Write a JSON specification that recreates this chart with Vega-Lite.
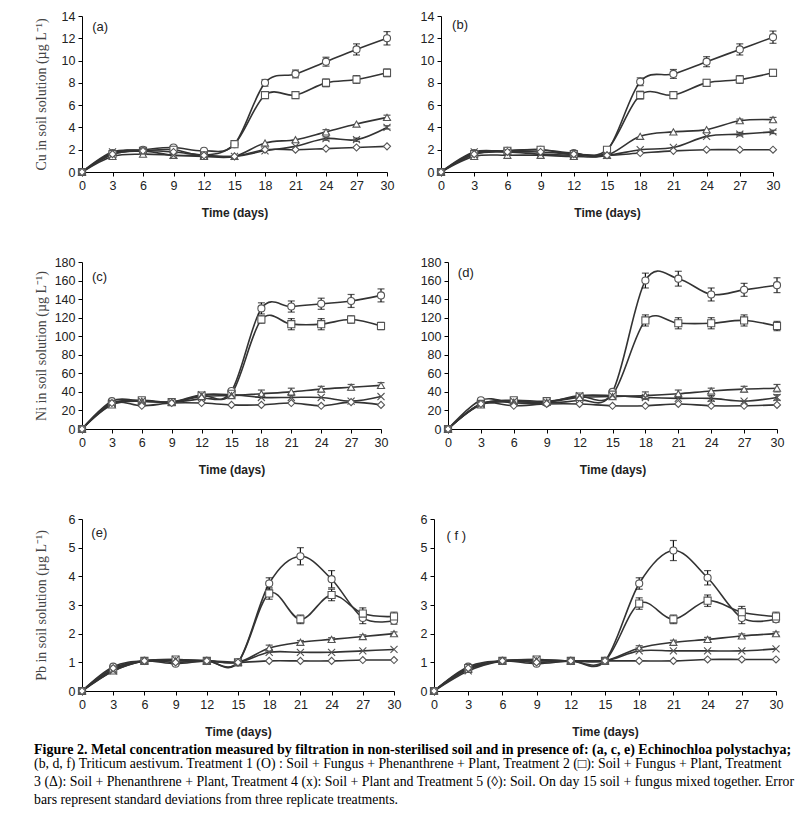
{
"$schema":"https://vega.github.io/schema/vega-lite/v6.json",
"padding":{"left":34,"top":10,"right":5,"bottom":5},
"background":"white",
"datasets":{"m":[
{"p":"a","t":"T1","d":0,"v":0},{"p":"a","t":"T1","d":3,"v":1.7},{"p":"a","t":"T1","d":6,"v":2.0},{"p":"a","t":"T1","d":9,"v":2.2},{"p":"a","t":"T1","d":12,"v":1.9},{"p":"a","t":"T1","d":15,"v":2.5,"e":0.1},{"p":"a","t":"T1","d":18,"v":8.0,"e":0.3},{"p":"a","t":"T1","d":21,"v":8.8,"e":0.35},{"p":"a","t":"T1","d":24,"v":9.9,"e":0.4},{"p":"a","t":"T1","d":27,"v":11.0,"e":0.5},{"p":"a","t":"T1","d":30,"v":12.0,"e":0.6},
{"p":"a","t":"T2","d":0,"v":0},{"p":"a","t":"T2","d":3,"v":1.6},{"p":"a","t":"T2","d":6,"v":1.9},{"p":"a","t":"T2","d":9,"v":2.0},{"p":"a","t":"T2","d":12,"v":1.5},{"p":"a","t":"T2","d":15,"v":2.5,"e":0.1},{"p":"a","t":"T2","d":18,"v":6.9,"e":0.3},{"p":"a","t":"T2","d":21,"v":6.9,"e":0.3},{"p":"a","t":"T2","d":24,"v":8.0,"e":0.35},{"p":"a","t":"T2","d":27,"v":8.3,"e":0.35},{"p":"a","t":"T2","d":30,"v":8.9,"e":0.35},
{"p":"a","t":"T3","d":0,"v":0},{"p":"a","t":"T3","d":3,"v":1.4},{"p":"a","t":"T3","d":6,"v":1.6},{"p":"a","t":"T3","d":9,"v":1.5},{"p":"a","t":"T3","d":12,"v":1.4},{"p":"a","t":"T3","d":15,"v":1.4},{"p":"a","t":"T3","d":18,"v":2.6},{"p":"a","t":"T3","d":21,"v":2.9},{"p":"a","t":"T3","d":24,"v":3.6,"e":0.2},{"p":"a","t":"T3","d":27,"v":4.3},{"p":"a","t":"T3","d":30,"v":4.9,"e":0.2},
{"p":"a","t":"T4","d":0,"v":0},{"p":"a","t":"T4","d":3,"v":1.8},{"p":"a","t":"T4","d":6,"v":1.9},{"p":"a","t":"T4","d":9,"v":1.5},{"p":"a","t":"T4","d":12,"v":1.5},{"p":"a","t":"T4","d":15,"v":1.4},{"p":"a","t":"T4","d":18,"v":1.9},{"p":"a","t":"T4","d":21,"v":2.3},{"p":"a","t":"T4","d":24,"v":3.0,"e":0.15},{"p":"a","t":"T4","d":27,"v":2.9,"e":0.15},{"p":"a","t":"T4","d":30,"v":4.0,"e":0.15},
{"p":"a","t":"T5","d":0,"v":0},{"p":"a","t":"T5","d":3,"v":1.6},{"p":"a","t":"T5","d":6,"v":1.9},{"p":"a","t":"T5","d":9,"v":1.8},{"p":"a","t":"T5","d":12,"v":1.5},{"p":"a","t":"T5","d":15,"v":1.4},{"p":"a","t":"T5","d":18,"v":2.0},{"p":"a","t":"T5","d":21,"v":2.0},{"p":"a","t":"T5","d":24,"v":2.1},{"p":"a","t":"T5","d":27,"v":2.2},{"p":"a","t":"T5","d":30,"v":2.3},
{"p":"b","t":"T1","d":0,"v":0},{"p":"b","t":"T1","d":3,"v":1.7},{"p":"b","t":"T1","d":6,"v":1.9},{"p":"b","t":"T1","d":9,"v":2.0},{"p":"b","t":"T1","d":12,"v":1.7},{"p":"b","t":"T1","d":15,"v":1.9},{"p":"b","t":"T1","d":18,"v":8.1,"e":0.35},{"p":"b","t":"T1","d":21,"v":8.8,"e":0.4},{"p":"b","t":"T1","d":24,"v":9.9,"e":0.45},{"p":"b","t":"T1","d":27,"v":11.0,"e":0.5},{"p":"b","t":"T1","d":30,"v":12.1,"e":0.55},
{"p":"b","t":"T2","d":0,"v":0},{"p":"b","t":"T2","d":3,"v":1.6},{"p":"b","t":"T2","d":6,"v":1.9},{"p":"b","t":"T2","d":9,"v":2.0},{"p":"b","t":"T2","d":12,"v":1.6},{"p":"b","t":"T2","d":15,"v":2.0,"e":0.1},{"p":"b","t":"T2","d":18,"v":6.9,"e":0.35},{"p":"b","t":"T2","d":21,"v":6.9,"e":0.3},{"p":"b","t":"T2","d":24,"v":8.0,"e":0.3},{"p":"b","t":"T2","d":27,"v":8.3,"e":0.35},{"p":"b","t":"T2","d":30,"v":8.9,"e":0.3},
{"p":"b","t":"T3","d":0,"v":0},{"p":"b","t":"T3","d":3,"v":1.4},{"p":"b","t":"T3","d":6,"v":1.5},{"p":"b","t":"T3","d":9,"v":1.5},{"p":"b","t":"T3","d":12,"v":1.4},{"p":"b","t":"T3","d":15,"v":1.5},{"p":"b","t":"T3","d":18,"v":3.2},{"p":"b","t":"T3","d":21,"v":3.6},{"p":"b","t":"T3","d":24,"v":3.8},{"p":"b","t":"T3","d":27,"v":4.6,"e":0.15},{"p":"b","t":"T3","d":30,"v":4.7,"e":0.2},
{"p":"b","t":"T4","d":0,"v":0},{"p":"b","t":"T4","d":3,"v":1.8},{"p":"b","t":"T4","d":6,"v":1.8},{"p":"b","t":"T4","d":9,"v":1.6},{"p":"b","t":"T4","d":12,"v":1.5},{"p":"b","t":"T4","d":15,"v":1.5},{"p":"b","t":"T4","d":18,"v":2.0},{"p":"b","t":"T4","d":21,"v":2.2},{"p":"b","t":"T4","d":24,"v":3.2},{"p":"b","t":"T4","d":27,"v":3.4,"e":0.15},{"p":"b","t":"T4","d":30,"v":3.6,"e":0.15},
{"p":"b","t":"T5","d":0,"v":0},{"p":"b","t":"T5","d":3,"v":1.6},{"p":"b","t":"T5","d":6,"v":1.8},{"p":"b","t":"T5","d":9,"v":1.8},{"p":"b","t":"T5","d":12,"v":1.6},{"p":"b","t":"T5","d":15,"v":1.5},{"p":"b","t":"T5","d":18,"v":1.7},{"p":"b","t":"T5","d":21,"v":1.9},{"p":"b","t":"T5","d":24,"v":2.0},{"p":"b","t":"T5","d":27,"v":2.0},{"p":"b","t":"T5","d":30,"v":2.0},
{"p":"c","t":"T1","d":0,"v":0},{"p":"c","t":"T1","d":3,"v":30},{"p":"c","t":"T1","d":6,"v":30},{"p":"c","t":"T1","d":9,"v":29},{"p":"c","t":"T1","d":12,"v":33},{"p":"c","t":"T1","d":15,"v":41},{"p":"c","t":"T1","d":18,"v":130,"e":6},{"p":"c","t":"T1","d":21,"v":132,"e":6},{"p":"c","t":"T1","d":24,"v":135,"e":6},{"p":"c","t":"T1","d":27,"v":138,"e":7},{"p":"c","t":"T1","d":30,"v":144,"e":7},
{"p":"c","t":"T2","d":0,"v":0},{"p":"c","t":"T2","d":3,"v":27},{"p":"c","t":"T2","d":6,"v":31},{"p":"c","t":"T2","d":9,"v":29},{"p":"c","t":"T2","d":12,"v":36},{"p":"c","t":"T2","d":15,"v":38},{"p":"c","t":"T2","d":18,"v":118,"e":4},{"p":"c","t":"T2","d":21,"v":113,"e":6},{"p":"c","t":"T2","d":24,"v":113,"e":6},{"p":"c","t":"T2","d":27,"v":118,"e":4},{"p":"c","t":"T2","d":30,"v":111,"e":4},
{"p":"c","t":"T3","d":0,"v":0},{"p":"c","t":"T3","d":3,"v":26},{"p":"c","t":"T3","d":6,"v":30},{"p":"c","t":"T3","d":9,"v":29},{"p":"c","t":"T3","d":12,"v":35},{"p":"c","t":"T3","d":15,"v":36},{"p":"c","t":"T3","d":18,"v":38,"e":4},{"p":"c","t":"T3","d":21,"v":40,"e":4},{"p":"c","t":"T3","d":24,"v":43,"e":3},{"p":"c","t":"T3","d":27,"v":45,"e":3},{"p":"c","t":"T3","d":30,"v":47,"e":3},
{"p":"c","t":"T4","d":0,"v":0},{"p":"c","t":"T4","d":3,"v":28},{"p":"c","t":"T4","d":6,"v":30},{"p":"c","t":"T4","d":9,"v":29},{"p":"c","t":"T4","d":12,"v":37},{"p":"c","t":"T4","d":15,"v":37},{"p":"c","t":"T4","d":18,"v":34},{"p":"c","t":"T4","d":21,"v":34},{"p":"c","t":"T4","d":24,"v":34},{"p":"c","t":"T4","d":27,"v":30},{"p":"c","t":"T4","d":30,"v":35},
{"p":"c","t":"T5","d":0,"v":0},{"p":"c","t":"T5","d":3,"v":28},{"p":"c","t":"T5","d":6,"v":25},{"p":"c","t":"T5","d":9,"v":28},{"p":"c","t":"T5","d":12,"v":28},{"p":"c","t":"T5","d":15,"v":26},{"p":"c","t":"T5","d":18,"v":26},{"p":"c","t":"T5","d":21,"v":28},{"p":"c","t":"T5","d":24,"v":25},{"p":"c","t":"T5","d":27,"v":29},{"p":"c","t":"T5","d":30,"v":26},
{"p":"d","t":"T1","d":0,"v":0},{"p":"d","t":"T1","d":3,"v":31},{"p":"d","t":"T1","d":6,"v":28},{"p":"d","t":"T1","d":9,"v":28},{"p":"d","t":"T1","d":12,"v":31},{"p":"d","t":"T1","d":15,"v":40},{"p":"d","t":"T1","d":18,"v":160,"e":8},{"p":"d","t":"T1","d":21,"v":162,"e":8},{"p":"d","t":"T1","d":24,"v":145,"e":7},{"p":"d","t":"T1","d":27,"v":150,"e":7},{"p":"d","t":"T1","d":30,"v":155,"e":8},
{"p":"d","t":"T2","d":0,"v":0},{"p":"d","t":"T2","d":3,"v":27},{"p":"d","t":"T2","d":6,"v":31},{"p":"d","t":"T2","d":9,"v":30},{"p":"d","t":"T2","d":12,"v":35},{"p":"d","t":"T2","d":15,"v":37},{"p":"d","t":"T2","d":18,"v":117,"e":6},{"p":"d","t":"T2","d":21,"v":114,"e":6},{"p":"d","t":"T2","d":24,"v":114,"e":6},{"p":"d","t":"T2","d":27,"v":117,"e":6},{"p":"d","t":"T2","d":30,"v":111,"e":5},
{"p":"d","t":"T3","d":0,"v":0},{"p":"d","t":"T3","d":3,"v":26},{"p":"d","t":"T3","d":6,"v":29},{"p":"d","t":"T3","d":9,"v":29},{"p":"d","t":"T3","d":12,"v":34},{"p":"d","t":"T3","d":15,"v":35},{"p":"d","t":"T3","d":18,"v":36,"e":4},{"p":"d","t":"T3","d":21,"v":38,"e":4},{"p":"d","t":"T3","d":24,"v":41,"e":3},{"p":"d","t":"T3","d":27,"v":43,"e":3},{"p":"d","t":"T3","d":30,"v":44,"e":4},
{"p":"d","t":"T4","d":0,"v":0},{"p":"d","t":"T4","d":3,"v":27},{"p":"d","t":"T4","d":6,"v":30},{"p":"d","t":"T4","d":9,"v":29},{"p":"d","t":"T4","d":12,"v":36},{"p":"d","t":"T4","d":15,"v":36},{"p":"d","t":"T4","d":18,"v":34},{"p":"d","t":"T4","d":21,"v":33},{"p":"d","t":"T4","d":24,"v":33,"e":3},{"p":"d","t":"T4","d":27,"v":30},{"p":"d","t":"T4","d":30,"v":34,"e":3},
{"p":"d","t":"T5","d":0,"v":0},{"p":"d","t":"T5","d":3,"v":27},{"p":"d","t":"T5","d":6,"v":25},{"p":"d","t":"T5","d":9,"v":27},{"p":"d","t":"T5","d":12,"v":27},{"p":"d","t":"T5","d":15,"v":25},{"p":"d","t":"T5","d":18,"v":25},{"p":"d","t":"T5","d":21,"v":27},{"p":"d","t":"T5","d":24,"v":25},{"p":"d","t":"T5","d":27,"v":25},{"p":"d","t":"T5","d":30,"v":26},
{"p":"e","t":"T1","d":0,"v":0},{"p":"e","t":"T1","d":3,"v":0.85},{"p":"e","t":"T1","d":6,"v":1.05},{"p":"e","t":"T1","d":9,"v":0.95},{"p":"e","t":"T1","d":12,"v":1.05},{"p":"e","t":"T1","d":15,"v":1.0},{"p":"e","t":"T1","d":18,"v":3.75,"e":0.2},{"p":"e","t":"T1","d":21,"v":4.7,"e":0.3},{"p":"e","t":"T1","d":24,"v":3.9,"e":0.3},{"p":"e","t":"T1","d":27,"v":2.55,"e":0.2},{"p":"e","t":"T1","d":30,"v":2.45,"e":0.12},
{"p":"e","t":"T2","d":0,"v":0},{"p":"e","t":"T2","d":3,"v":0.75},{"p":"e","t":"T2","d":6,"v":1.05},{"p":"e","t":"T2","d":9,"v":1.1},{"p":"e","t":"T2","d":12,"v":1.05},{"p":"e","t":"T2","d":15,"v":1.0},{"p":"e","t":"T2","d":18,"v":3.4,"e":0.2},{"p":"e","t":"T2","d":21,"v":2.5,"e":0.15},{"p":"e","t":"T2","d":24,"v":3.35,"e":0.2},{"p":"e","t":"T2","d":27,"v":2.7,"e":0.2},{"p":"e","t":"T2","d":30,"v":2.6,"e":0.15},
{"p":"e","t":"T3","d":0,"v":0},{"p":"e","t":"T3","d":3,"v":0.7},{"p":"e","t":"T3","d":6,"v":1.05},{"p":"e","t":"T3","d":9,"v":1.05},{"p":"e","t":"T3","d":12,"v":1.05},{"p":"e","t":"T3","d":15,"v":1.0},{"p":"e","t":"T3","d":18,"v":1.5,"e":0.1},{"p":"e","t":"T3","d":21,"v":1.7,"e":0.06},{"p":"e","t":"T3","d":24,"v":1.8,"e":0.06},{"p":"e","t":"T3","d":27,"v":1.9,"e":0.06},{"p":"e","t":"T3","d":30,"v":2.0,"e":0.06},
{"p":"e","t":"T4","d":0,"v":0},{"p":"e","t":"T4","d":3,"v":0.7},{"p":"e","t":"T4","d":6,"v":1.05},{"p":"e","t":"T4","d":9,"v":1.1},{"p":"e","t":"T4","d":12,"v":1.05},{"p":"e","t":"T4","d":15,"v":1.0},{"p":"e","t":"T4","d":18,"v":1.35},{"p":"e","t":"T4","d":21,"v":1.35},{"p":"e","t":"T4","d":24,"v":1.35},{"p":"e","t":"T4","d":27,"v":1.4},{"p":"e","t":"T4","d":30,"v":1.45},
{"p":"e","t":"T5","d":0,"v":0},{"p":"e","t":"T5","d":3,"v":0.8},{"p":"e","t":"T5","d":6,"v":1.05},{"p":"e","t":"T5","d":9,"v":1.0},{"p":"e","t":"T5","d":12,"v":1.05},{"p":"e","t":"T5","d":15,"v":1.0},{"p":"e","t":"T5","d":18,"v":1.05},{"p":"e","t":"T5","d":21,"v":1.05},{"p":"e","t":"T5","d":24,"v":1.05},{"p":"e","t":"T5","d":27,"v":1.08},{"p":"e","t":"T5","d":30,"v":1.08},
{"p":"f","t":"T1","d":0,"v":0},{"p":"f","t":"T1","d":3,"v":0.85},{"p":"f","t":"T1","d":6,"v":1.05},{"p":"f","t":"T1","d":9,"v":0.95},{"p":"f","t":"T1","d":12,"v":1.05},{"p":"f","t":"T1","d":15,"v":1.05},{"p":"f","t":"T1","d":18,"v":3.75,"e":0.2},{"p":"f","t":"T1","d":21,"v":4.9,"e":0.35},{"p":"f","t":"T1","d":24,"v":3.95,"e":0.25},{"p":"f","t":"T1","d":27,"v":2.55,"e":0.2},{"p":"f","t":"T1","d":30,"v":2.5,"e":0.1},
{"p":"f","t":"T2","d":0,"v":0},{"p":"f","t":"T2","d":3,"v":0.8},{"p":"f","t":"T2","d":6,"v":1.05},{"p":"f","t":"T2","d":9,"v":1.1},{"p":"f","t":"T2","d":12,"v":1.05},{"p":"f","t":"T2","d":15,"v":1.05},{"p":"f","t":"T2","d":18,"v":3.05,"e":0.2},{"p":"f","t":"T2","d":21,"v":2.5,"e":0.15},{"p":"f","t":"T2","d":24,"v":3.15,"e":0.2},{"p":"f","t":"T2","d":27,"v":2.75,"e":0.2},{"p":"f","t":"T2","d":30,"v":2.6,"e":0.15},
{"p":"f","t":"T3","d":0,"v":0},{"p":"f","t":"T3","d":3,"v":0.75},{"p":"f","t":"T3","d":6,"v":1.05},{"p":"f","t":"T3","d":9,"v":1.05},{"p":"f","t":"T3","d":12,"v":1.05},{"p":"f","t":"T3","d":15,"v":1.05},{"p":"f","t":"T3","d":18,"v":1.5,"e":0.08},{"p":"f","t":"T3","d":21,"v":1.7,"e":0.07},{"p":"f","t":"T3","d":24,"v":1.8,"e":0.07},{"p":"f","t":"T3","d":27,"v":1.92,"e":0.07},{"p":"f","t":"T3","d":30,"v":2.0,"e":0.06},
{"p":"f","t":"T4","d":0,"v":0},{"p":"f","t":"T4","d":3,"v":0.7},{"p":"f","t":"T4","d":6,"v":1.05},{"p":"f","t":"T4","d":9,"v":1.1},{"p":"f","t":"T4","d":12,"v":1.05},{"p":"f","t":"T4","d":15,"v":1.05},{"p":"f","t":"T4","d":18,"v":1.4},{"p":"f","t":"T4","d":21,"v":1.4},{"p":"f","t":"T4","d":24,"v":1.4},{"p":"f","t":"T4","d":27,"v":1.4},{"p":"f","t":"T4","d":30,"v":1.47},
{"p":"f","t":"T5","d":0,"v":0},{"p":"f","t":"T5","d":3,"v":0.8},{"p":"f","t":"T5","d":6,"v":1.05},{"p":"f","t":"T5","d":9,"v":1.0},{"p":"f","t":"T5","d":12,"v":1.05},{"p":"f","t":"T5","d":15,"v":1.05},{"p":"f","t":"T5","d":18,"v":1.05},{"p":"f","t":"T5","d":21,"v":1.05},{"p":"f","t":"T5","d":24,"v":1.1},{"p":"f","t":"T5","d":27,"v":1.1},{"p":"f","t":"T5","d":30,"v":1.1}
]},
"data":{"name":"m"},
"title":{"text":["Figure 2. Metal concentration measured by filtration in non-sterilised soil and in presence of: (a, c, e) Echinochloa polystachya;"],"subtitle":["(b, d, f) Triticum aestivum. Treatment 1 (O) : Soil + Fungus + Phenanthrene + Plant, Treatment 2 (□): Soil + Fungus + Plant, Treatment","3 (Δ): Soil + Phenanthrene + Plant, Treatment 4 (x): Soil + Plant and Treatment 5 (◊): Soil. On day 15 soil + fungus mixed together. Error","bars represent standard deviations from three replicate treatments."],"orient":"bottom","anchor":"start","frame":"bounds","offset":5,"font":"Liberation Serif","fontSize":14,"fontWeight":"bold","color":"#000","subtitleFont":"Liberation Serif","subtitleFontSize":13.8,"subtitleColor":"#000","subtitlePadding":0,"lineHeight":17.6,"subtitleLineHeight":18},
"columns":2,
"align":"none",
"spacing":{"row":37,"column":19},
"concat":[
{"width":305,"height":156,"transform":[{"filter":"datum.p==='a'"}],"layer":[
{"mark":{"type":"line","interpolate":"cardinal","color":"#333","strokeWidth":1.6},"encoding":{"x":{"field":"d","type":"quantitative","scale":{"domain":[0,30],"nice":false},"axis":{"values":[0,3,6,9,12,15,18,21,24,27,30],"title":"Time (days)"}},"y":{"field":"v","type":"quantitative","scale":{"domain":[0,14],"nice":false},"axis":{"values":[0,2,4,6,8,10,12,14],"title":"Cu in soil solution (µg L⁻¹)","titlePadding":13}},"detail":{"field":"t"}}},
{"transform":[{"filter":{"field":"e","valid":true}}],"mark":{"type":"errorbar","ticks":{"size":7},"color":"#111","thickness":1.2},"encoding":{"x":{"field":"d","type":"quantitative","scale":{"domain":[0,30],"nice":false},"axis":{"values":[0,3,6,9,12,15,18,21,24,27,30],"title":"Time (days)"}},"y":{"field":"v","type":"quantitative","scale":{"domain":[0,14],"nice":false},"axis":{"values":[0,2,4,6,8,10,12,14],"title":"Cu in soil solution (µg L⁻¹)","titlePadding":13}},"yError":{"field":"e"}}},
{"mark":{"type":"point","filled":false,"fill":"white","stroke":"#555","strokeWidth":1.1,"size":50,"opacity":1},"encoding":{"x":{"field":"d","type":"quantitative","scale":{"domain":[0,30],"nice":false},"axis":{"values":[0,3,6,9,12,15,18,21,24,27,30],"title":"Time (days)"}},"y":{"field":"v","type":"quantitative","scale":{"domain":[0,14],"nice":false},"axis":{"values":[0,2,4,6,8,10,12,14],"title":"Cu in soil solution (µg L⁻¹)","titlePadding":13}},"shape":{"field":"t","type":"nominal","legend":null,"scale":{"domain":["T1","T2","T3","T4","T5"],"range":["circle","square","triangle-up","M-1,-1L1,1M-1,1L1,-1","diamond"]}}}},
{"data":{"values":[{"p":"a","lab":"(a)"}]},"mark":{"type":"text","align":"left","baseline":"middle","font":"Liberation Sans","fontSize":13,"color":"#222"},"encoding":{"x":{"datum":1,"type":"quantitative","scale":{"domain":[0,30],"nice":false},"axis":{"values":[0,3,6,9,12,15,18,21,24,27,30],"title":"Time (days)"}},"y":{"datum":13,"type":"quantitative","scale":{"domain":[0,14],"nice":false},"axis":{"values":[0,2,4,6,8,10,12,14],"title":"Cu in soil solution (µg L⁻¹)","titlePadding":13}},"text":{"field":"lab"}}}
]},
{"width":332,"height":156,"transform":[{"filter":"datum.p==='b'"}],"layer":[
{"mark":{"type":"line","interpolate":"cardinal","color":"#333","strokeWidth":1.6},"encoding":{"x":{"field":"d","type":"quantitative","scale":{"domain":[0,30],"nice":false},"axis":{"values":[0,3,6,9,12,15,18,21,24,27,30],"title":"Time (days)"}},"y":{"field":"v","type":"quantitative","scale":{"domain":[0,14],"nice":false},"axis":{"values":[0,2,4,6,8,10,12,14],"title":null}},"detail":{"field":"t"}}},
{"transform":[{"filter":{"field":"e","valid":true}}],"mark":{"type":"errorbar","ticks":{"size":7},"color":"#111","thickness":1.2},"encoding":{"x":{"field":"d","type":"quantitative","scale":{"domain":[0,30],"nice":false},"axis":{"values":[0,3,6,9,12,15,18,21,24,27,30],"title":"Time (days)"}},"y":{"field":"v","type":"quantitative","scale":{"domain":[0,14],"nice":false},"axis":{"values":[0,2,4,6,8,10,12,14],"title":null}},"yError":{"field":"e"}}},
{"mark":{"type":"point","filled":false,"fill":"white","stroke":"#555","strokeWidth":1.1,"size":50,"opacity":1},"encoding":{"x":{"field":"d","type":"quantitative","scale":{"domain":[0,30],"nice":false},"axis":{"values":[0,3,6,9,12,15,18,21,24,27,30],"title":"Time (days)"}},"y":{"field":"v","type":"quantitative","scale":{"domain":[0,14],"nice":false},"axis":{"values":[0,2,4,6,8,10,12,14],"title":null}},"shape":{"field":"t","type":"nominal","legend":null,"scale":{"domain":["T1","T2","T3","T4","T5"],"range":["circle","square","triangle-up","M-1,-1L1,1M-1,1L1,-1","diamond"]}}}},
{"data":{"values":[{"p":"b","lab":"(b)"}]},"mark":{"type":"text","align":"left","baseline":"middle","font":"Liberation Sans","fontSize":13,"color":"#222"},"encoding":{"x":{"datum":1,"type":"quantitative","scale":{"domain":[0,30],"nice":false},"axis":{"values":[0,3,6,9,12,15,18,21,24,27,30],"title":"Time (days)"}},"y":{"datum":13.2,"type":"quantitative","scale":{"domain":[0,14],"nice":false},"axis":{"values":[0,2,4,6,8,10,12,14],"title":null}},"text":{"field":"lab"}}}
]},
{"width":299,"height":167,"transform":[{"filter":"datum.p==='c'"}],"layer":[
{"mark":{"type":"line","interpolate":"cardinal","color":"#333","strokeWidth":1.6},"encoding":{"x":{"field":"d","type":"quantitative","scale":{"domain":[0,30],"nice":false},"axis":{"values":[0,3,6,9,12,15,18,21,24,27,30],"title":"Time (days)"}},"y":{"field":"v","type":"quantitative","scale":{"domain":[0,180],"nice":false},"axis":{"values":[0,20,40,60,80,100,120,140,160,180],"title":"Ni in soil solution (µg L⁻¹)","titlePadding":6}},"detail":{"field":"t"}}},
{"transform":[{"filter":{"field":"e","valid":true}}],"mark":{"type":"errorbar","ticks":{"size":7},"color":"#111","thickness":1.2},"encoding":{"x":{"field":"d","type":"quantitative","scale":{"domain":[0,30],"nice":false},"axis":{"values":[0,3,6,9,12,15,18,21,24,27,30],"title":"Time (days)"}},"y":{"field":"v","type":"quantitative","scale":{"domain":[0,180],"nice":false},"axis":{"values":[0,20,40,60,80,100,120,140,160,180],"title":"Ni in soil solution (µg L⁻¹)","titlePadding":6}},"yError":{"field":"e"}}},
{"mark":{"type":"point","filled":false,"fill":"white","stroke":"#555","strokeWidth":1.1,"size":50,"opacity":1},"encoding":{"x":{"field":"d","type":"quantitative","scale":{"domain":[0,30],"nice":false},"axis":{"values":[0,3,6,9,12,15,18,21,24,27,30],"title":"Time (days)"}},"y":{"field":"v","type":"quantitative","scale":{"domain":[0,180],"nice":false},"axis":{"values":[0,20,40,60,80,100,120,140,160,180],"title":"Ni in soil solution (µg L⁻¹)","titlePadding":6}},"shape":{"field":"t","type":"nominal","legend":null,"scale":{"domain":["T1","T2","T3","T4","T5"],"range":["circle","square","triangle-up","M-1,-1L1,1M-1,1L1,-1","diamond"]}}}},
{"data":{"values":[{"p":"c","lab":"(c)"}]},"mark":{"type":"text","align":"left","baseline":"middle","font":"Liberation Sans","fontSize":13,"color":"#222"},"encoding":{"x":{"datum":1,"type":"quantitative","scale":{"domain":[0,30],"nice":false},"axis":{"values":[0,3,6,9,12,15,18,21,24,27,30],"title":"Time (days)"}},"y":{"datum":164,"type":"quantitative","scale":{"domain":[0,180],"nice":false},"axis":{"values":[0,20,40,60,80,100,120,140,160,180],"title":"Ni in soil solution (µg L⁻¹)","titlePadding":6}},"text":{"field":"lab"}}}
]},
{"width":329,"height":167,"transform":[{"filter":"datum.p==='d'"}],"layer":[
{"mark":{"type":"line","interpolate":"cardinal","color":"#333","strokeWidth":1.6},"encoding":{"x":{"field":"d","type":"quantitative","scale":{"domain":[0,30],"nice":false},"axis":{"values":[0,3,6,9,12,15,18,21,24,27,30],"title":"Time (days)"}},"y":{"field":"v","type":"quantitative","scale":{"domain":[0,180],"nice":false},"axis":{"values":[0,20,40,60,80,100,120,140,160,180],"title":null}},"detail":{"field":"t"}}},
{"transform":[{"filter":{"field":"e","valid":true}}],"mark":{"type":"errorbar","ticks":{"size":7},"color":"#111","thickness":1.2},"encoding":{"x":{"field":"d","type":"quantitative","scale":{"domain":[0,30],"nice":false},"axis":{"values":[0,3,6,9,12,15,18,21,24,27,30],"title":"Time (days)"}},"y":{"field":"v","type":"quantitative","scale":{"domain":[0,180],"nice":false},"axis":{"values":[0,20,40,60,80,100,120,140,160,180],"title":null}},"yError":{"field":"e"}}},
{"mark":{"type":"point","filled":false,"fill":"white","stroke":"#555","strokeWidth":1.1,"size":50,"opacity":1},"encoding":{"x":{"field":"d","type":"quantitative","scale":{"domain":[0,30],"nice":false},"axis":{"values":[0,3,6,9,12,15,18,21,24,27,30],"title":"Time (days)"}},"y":{"field":"v","type":"quantitative","scale":{"domain":[0,180],"nice":false},"axis":{"values":[0,20,40,60,80,100,120,140,160,180],"title":null}},"shape":{"field":"t","type":"nominal","legend":null,"scale":{"domain":["T1","T2","T3","T4","T5"],"range":["circle","square","triangle-up","M-1,-1L1,1M-1,1L1,-1","diamond"]}}}},
{"data":{"values":[{"p":"d","lab":"(d)"}]},"mark":{"type":"text","align":"left","baseline":"middle","font":"Liberation Sans","fontSize":13,"color":"#222"},"encoding":{"x":{"datum":0.9,"type":"quantitative","scale":{"domain":[0,30],"nice":false},"axis":{"values":[0,3,6,9,12,15,18,21,24,27,30],"title":"Time (days)"}},"y":{"datum":168,"type":"quantitative","scale":{"domain":[0,180],"nice":false},"axis":{"values":[0,20,40,60,80,100,120,140,160,180],"title":null}},"text":{"field":"lab"}}}
]},
{"width":312,"height":172,"transform":[{"filter":"datum.p==='e'"}],"layer":[
{"mark":{"type":"line","interpolate":"cardinal","color":"#333","strokeWidth":1.6},"encoding":{"x":{"field":"d","type":"quantitative","scale":{"domain":[0,30],"nice":false},"axis":{"values":[0,3,6,9,12,15,18,21,24,27,30],"title":"Time (days)"}},"y":{"field":"v","type":"quantitative","scale":{"domain":[0,6],"nice":false},"axis":{"values":[0,1,2,3,4,5,6],"title":"Pb in soil solution (µg L⁻¹)","titlePadding":20}},"detail":{"field":"t"}}},
{"transform":[{"filter":{"field":"e","valid":true}}],"mark":{"type":"errorbar","ticks":{"size":7},"color":"#111","thickness":1.2},"encoding":{"x":{"field":"d","type":"quantitative","scale":{"domain":[0,30],"nice":false},"axis":{"values":[0,3,6,9,12,15,18,21,24,27,30],"title":"Time (days)"}},"y":{"field":"v","type":"quantitative","scale":{"domain":[0,6],"nice":false},"axis":{"values":[0,1,2,3,4,5,6],"title":"Pb in soil solution (µg L⁻¹)","titlePadding":20}},"yError":{"field":"e"}}},
{"mark":{"type":"point","filled":false,"fill":"white","stroke":"#555","strokeWidth":1.1,"size":50,"opacity":1},"encoding":{"x":{"field":"d","type":"quantitative","scale":{"domain":[0,30],"nice":false},"axis":{"values":[0,3,6,9,12,15,18,21,24,27,30],"title":"Time (days)"}},"y":{"field":"v","type":"quantitative","scale":{"domain":[0,6],"nice":false},"axis":{"values":[0,1,2,3,4,5,6],"title":"Pb in soil solution (µg L⁻¹)","titlePadding":20}},"shape":{"field":"t","type":"nominal","legend":null,"scale":{"domain":["T1","T2","T3","T4","T5"],"range":["circle","square","triangle-up","M-1,-1L1,1M-1,1L1,-1","diamond"]}}}},
{"data":{"values":[{"p":"e","lab":"(e)"}]},"mark":{"type":"text","align":"left","baseline":"middle","font":"Liberation Sans","fontSize":13,"color":"#222"},"encoding":{"x":{"datum":0.9,"type":"quantitative","scale":{"domain":[0,30],"nice":false},"axis":{"values":[0,3,6,9,12,15,18,21,24,27,30],"title":"Time (days)"}},"y":{"datum":5.5,"type":"quantitative","scale":{"domain":[0,6],"nice":false},"axis":{"values":[0,1,2,3,4,5,6],"title":"Pb in soil solution (µg L⁻¹)","titlePadding":20}},"text":{"field":"lab"}}}
]},
{"width":342,"height":172,"transform":[{"filter":"datum.p==='f'"}],"layer":[
{"mark":{"type":"line","interpolate":"cardinal","color":"#333","strokeWidth":1.6},"encoding":{"x":{"field":"d","type":"quantitative","scale":{"domain":[0,30],"nice":false},"axis":{"values":[0,3,6,9,12,15,18,21,24,27,30],"title":"Time (days)"}},"y":{"field":"v","type":"quantitative","scale":{"domain":[0,6],"nice":false},"axis":{"values":[0,1,2,3,4,5,6],"title":null}},"detail":{"field":"t"}}},
{"transform":[{"filter":{"field":"e","valid":true}}],"mark":{"type":"errorbar","ticks":{"size":7},"color":"#111","thickness":1.2},"encoding":{"x":{"field":"d","type":"quantitative","scale":{"domain":[0,30],"nice":false},"axis":{"values":[0,3,6,9,12,15,18,21,24,27,30],"title":"Time (days)"}},"y":{"field":"v","type":"quantitative","scale":{"domain":[0,6],"nice":false},"axis":{"values":[0,1,2,3,4,5,6],"title":null}},"yError":{"field":"e"}}},
{"mark":{"type":"point","filled":false,"fill":"white","stroke":"#555","strokeWidth":1.1,"size":50,"opacity":1},"encoding":{"x":{"field":"d","type":"quantitative","scale":{"domain":[0,30],"nice":false},"axis":{"values":[0,3,6,9,12,15,18,21,24,27,30],"title":"Time (days)"}},"y":{"field":"v","type":"quantitative","scale":{"domain":[0,6],"nice":false},"axis":{"values":[0,1,2,3,4,5,6],"title":null}},"shape":{"field":"t","type":"nominal","legend":null,"scale":{"domain":["T1","T2","T3","T4","T5"],"range":["circle","square","triangle-up","M-1,-1L1,1M-1,1L1,-1","diamond"]}}}},
{"data":{"values":[{"p":"f","lab":"( f )"}]},"mark":{"type":"text","align":"left","baseline":"middle","font":"Liberation Sans","fontSize":13,"color":"#222"},"encoding":{"x":{"datum":1.1,"type":"quantitative","scale":{"domain":[0,30],"nice":false},"axis":{"values":[0,3,6,9,12,15,18,21,24,27,30],"title":"Time (days)"}},"y":{"datum":5.4,"type":"quantitative","scale":{"domain":[0,6],"nice":false},"axis":{"values":[0,1,2,3,4,5,6],"title":null}},"text":{"field":"lab"}}}
]}
],
"config":{"view":{"stroke":null},"axis":{"grid":false,"domainColor":"#000","tickColor":"#000","labelFont":"Liberation Sans","labelFontSize":12.5,"labelColor":"#222","tickSize":4,"labelPadding":3,"titleFont":"Liberation Serif","titleFontSize":14,"titleFontWeight":"normal","titleColor":"#444"},"axisX":{"titleFont":"Liberation Sans","titleFontWeight":"bold","titleFontSize":12,"titleColor":"#222","titlePadding":16,"labelFlush":false}}
}
